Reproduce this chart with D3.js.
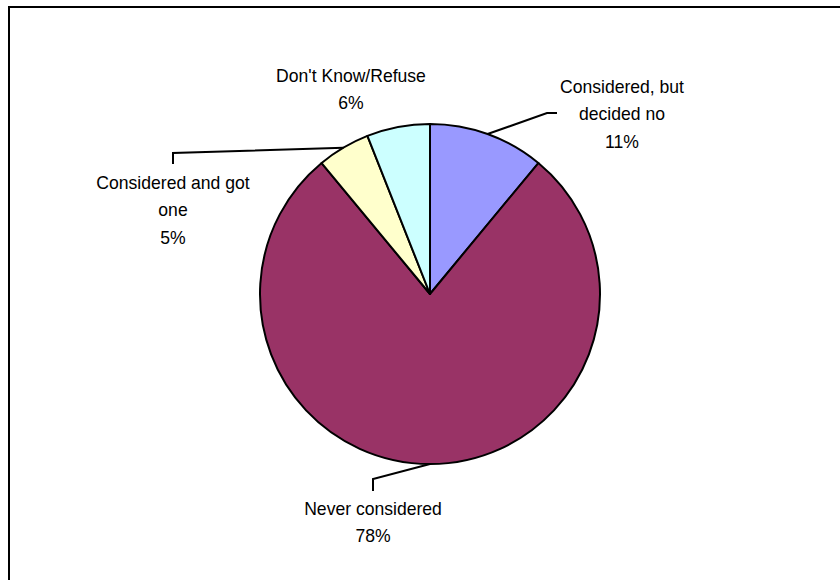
<!DOCTYPE html>
<html>
<head>
<meta charset="utf-8">
<script src="https://cdn.jsdelivr.net/npm/d3@7"></script>
<style>
  html, body { margin: 0; padding: 0; background: #fff; }
  svg { display: block; }
  text { font-family: "Liberation Sans", Arial, sans-serif; font-size: 18.6px; fill: #000; }
</style>
</head>
<body>
<svg id="chart" width="840" height="580"></svg>
<script>
// Survey answers, in clockwise order from 12 o'clock
const categories = ["Considered, but decided no", "Never considered", "Considered and got one", "Don't Know/Refuse"];
const values = [11, 78, 5, 6];
const labelLines = [
  ["Considered, but", "decided no"],
  ["Never considered"],
  ["Considered and got", "one"],
  ["Don't Know/Refuse"]
];
const colors = ["#9999FF", "#993366", "#FFFFCC", "#CCFFFF"];

const svg = d3.select("#chart");
const cx = 430, cy = 294, r = 170;
const lineH = 27.3;
const squeeze = 0.945; // labels are set slightly condensed

// Frame around the chart area
svg.append("rect")
  .attr("x", 9).attr("y", 7)
  .attr("width", 900).attr("height", 700)
  .attr("fill", "none").attr("stroke", "#000").attr("stroke-width", 2);

const pie = d3.pie().sort(null).value(d => d.value);
const arcs = pie(categories.map((c, i) => ({ name: c, value: values[i], i })));
const arc = d3.arc().innerRadius(0).outerRadius(r);
const edge = d3.arc().innerRadius(r).outerRadius(r);

const g = svg.append("g").attr("transform", `translate(${cx},${cy})`);
g.selectAll("path.slice")
  .data(arcs)
  .join("path")
  .attr("class", "slice")
  .attr("d", arc)
  .attr("fill", d => colors[d.data.i])
  .attr("stroke", "#000")
  .attr("stroke-width", 2)
  .attr("stroke-linejoin", "round");

// Label placement relative to the pie centre: text centre x, first baseline,
// and the leader elbow (null where the label sits close to its slice)
const labelLayout = [
  { x: 192, y: -201, elbow: [[117, -181], [127, -181]] },
  { x: -57, y: 221, elbow: [[-57, 185], [-57, 197]] },
  { x: -257, y: -105, elbow: [[-257, -141], [-257, -130]] },
  { x: -79, y: -212, elbow: null }
];

arcs.forEach((d, k) => {
  const L = labelLayout[k];
  if (L.elbow) {
    const p0 = edge.centroid(d);
    const pts = [p0, ...L.elbow];
    g.append("path")
      .attr("d", d3.line()(pts))
      .attr("fill", "none")
      .attr("stroke", "#000")
      .attr("stroke-width", 2);
  }
  const lines = [...labelLines[k], values[k] + "%"];
  const t = g.append("g")
    .attr("transform", `translate(${L.x},0) scale(${squeeze},1)`)
    .append("text").attr("text-anchor", "middle");
  lines.forEach((s, j) => {
    t.append("tspan").attr("x", 0).attr("y", L.y + j * lineH).text(s);
  });
});
</script>
</body>
</html>
